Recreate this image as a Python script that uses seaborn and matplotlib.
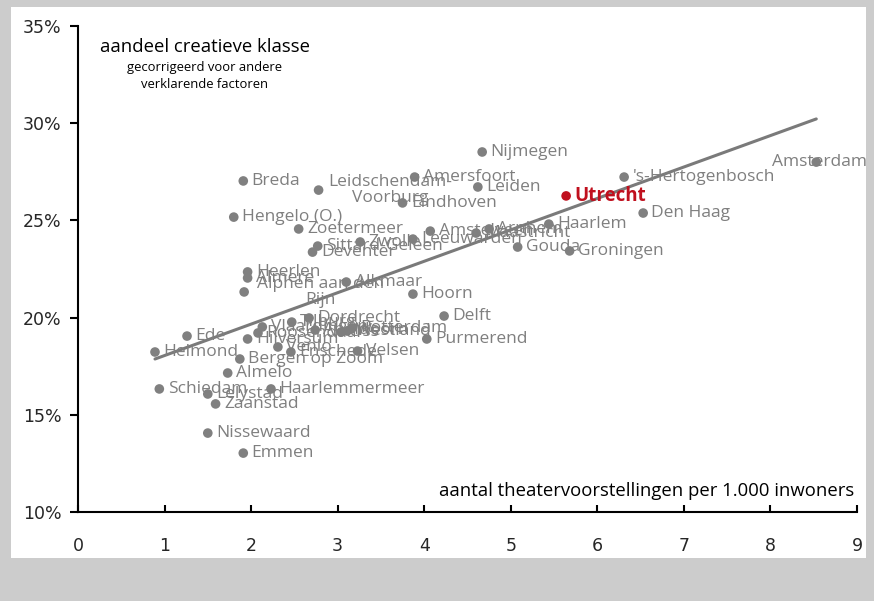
import matplotlib.pyplot as plt
import seaborn as sns
import pandas as pd
from matplotlib.patches import Rectangle
from matplotlib.ticker import FuncFormatter

# gemeenten, theatervoorstellingen per 1.000 inwoners, aandeel creatieve klasse (%)
gemeenten = ['Amsterdam', "'s-Hertogenbosch", 'Utrecht', 'Den Haag', 'Haarlem',
             'Groningen', 'Gouda', 'Amstelveen', 'Maastricht', 'Arnhem',
             'Leeuwarden', 'Zwolle', 'Sittard-Geleen', 'Deventer', 'Zoetermeer',
             'Heerlen', 'Almere', 'Alphen aan den Rijn', 'Alkmaar', 'Hoorn',
             'Delft', 'Purmerend', 'Nijmegen', 'Leiden', 'Amersfoort',
             'Eindhoven', 'Leidschendam-Voorburg', 'Breda', 'Hengelo (O.)',
             'Ede', 'Helmond', 'Bergen op Zoom', 'Almelo', 'Schiedam',
             'Lelystad', 'Haarlemmermeer', 'Zaanstad', 'Nissewaard', 'Emmen',
             'Velsen', 'Enschede', 'Venlo', 'Hilversum', 'Roosendaal',
             'Vlaardingen', 'Tilburg', 'Dordrecht', 'Apeldoorn', 'Oss',
             'Westland', 'Rotterdam']
theater = [8.53, 6.31, 5.64, 6.53, 5.44,
           5.68, 5.08, 4.07, 4.60, 4.75,
           3.87, 3.26, 2.77, 2.71, 2.55,
           1.96, 1.96, 1.92, 3.10, 3.87,
           4.23, 4.03, 4.67, 4.62, 3.89,
           3.75, 2.78, 1.91, 1.80,
           1.26, 0.89, 1.87, 1.73, 0.94,
           1.50, 2.23, 1.59, 1.50, 1.91,
           3.23, 2.46, 2.31, 1.96, 2.08,
           2.13, 2.47, 2.67, 2.74, 3.04,
           3.11, 3.17]
creatief = [28.00, 27.23, 26.26, 25.38, 24.81,
            23.43, 23.63, 24.45, 24.35, 24.56,
            24.04, 23.89, 23.68, 23.37, 24.56,
            22.35, 22.04, 21.32, 21.83, 21.21,
            20.08, 18.90, 28.52, 26.72, 27.23,
            25.90, 26.56, 27.03, 25.17,
            19.05, 18.23, 17.87, 17.15, 16.33,
            16.07, 16.33, 15.56, 14.06, 13.03,
            18.28, 18.23, 18.49, 18.90, 19.21,
            19.52, 19.77, 19.98, 19.36, 19.26,
            19.31, 19.47]

trend_x = [0.89, 8.53]
trend_y = [17.87, 30.22]

df = pd.DataFrame({'gemeente': gemeenten, 'theater': theater, 'creatief': creatief})
df['groep'] = ['Utrecht' if g == 'Utrecht' else 'overig' for g in df['gemeente']]

sns.set_style('white')
plt.rcParams['font.family'] = ['Open Sans', 'DejaVu Sans']

grijs = '#808080'
rood = '#c0101e'

fig = plt.figure(figsize=(8.74, 6.01), dpi=100, facecolor='#cccccc')
fig.patches.append(Rectangle((11 / 874, 43 / 601), 855 / 874, 551 / 601,
                             transform=fig.transFigure, facecolor='white',
                             edgecolor='none', zorder=-10))
ax = fig.add_axes([0.0892, 0.1481, 0.8913, 0.8086])
ax.set_facecolor('none')

sns.lineplot(x=trend_x, y=trend_y, color='#7a7a7a', lw=2.2, ax=ax, zorder=2)
sns.scatterplot(data=df, x='theater', y='creatief', hue='groep',
                palette={'overig': grijs, 'Utrecht': rood}, s=48, linewidth=0,
                legend=False, ax=ax, zorder=3)

weergave = {'Leidschendam-Voorburg': 'Leidschendam-\nVoorburg',
            'Alphen aan den Rijn': 'Alphen aan den\nRijn'}
for _, r in df.iterrows():
    tekst = weergave.get(r['gemeente'], r['gemeente'])
    kw = dict(xytext=(6, 0), ha='left')
    if r['gemeente'] == 'Amsterdam':
        kw = dict(xytext=(2, 0), ha='center')
    elif r['gemeente'] == 'Alphen aan den Rijn':
        kw = dict(xytext=(9, 0), ha='left')
    elif r['gemeente'] == 'Leidschendam-Voorburg':
        kw = dict(xytext=(7, 0), ha='left')
    if r['gemeente'] == 'Utrecht':
        ax.annotate(tekst, (r['theater'], r['creatief']), textcoords='offset points',
                    va='center', fontsize=13.5, color=rood, fontweight='bold', **kw)
    else:
        ax.annotate(tekst, (r['theater'], r['creatief']), textcoords='offset points',
                    va='center', fontsize=12.5, color='#7f7f7f',
                    multialignment='center', linespacing=1.0, **kw)

ax.set_xlim(0, 9)
ax.set_ylim(10, 35)
ax.set_xticks(range(0, 10))
ax.set_yticks([10, 15, 20, 25, 30, 35])
ax.yaxis.set_major_formatter(FuncFormatter(lambda v, p: f'{v:.0f}%'))
ax.set_xlabel('')
ax.set_ylabel('')
for s in ['top', 'right']:
    ax.spines[s].set_visible(False)
for s in ['left', 'bottom']:
    ax.spines[s].set_color('black')
    ax.spines[s].set_linewidth(1.5)
ax.tick_params(axis='y', direction='out', length=6, width=1.5, color='black',
               pad=6, labelsize=12.5, left=True)
ax.tick_params(axis='x', direction='in', length=5, width=1.5, color='black',
               pad=18, labelsize=12.5, bottom=True)
for lab in ax.get_xticklabels() + ax.get_yticklabels():
    lab.set_family(['Liberation Sans Narrow', 'DejaVu Sans'])

ax.text(0.163, 0.957, 'aandeel creatieve klasse', transform=ax.transAxes,
        ha='center', va='center', fontsize=13.3, color='black')
ax.text(0.163, 0.897, 'gecorrigeerd voor andere\nverklarende factoren',
        transform=ax.transAxes, ha='center', va='center', fontsize=9.4,
        color='black', linespacing=1.4)
ax.text(0.997, 0.043, 'aantal theatervoorstellingen per 1.000 inwoners',
        transform=ax.transAxes, ha='right', va='center', fontsize=13.3, color='black')

fig.savefig('out.png', dpi=100, facecolor=fig.get_facecolor())
